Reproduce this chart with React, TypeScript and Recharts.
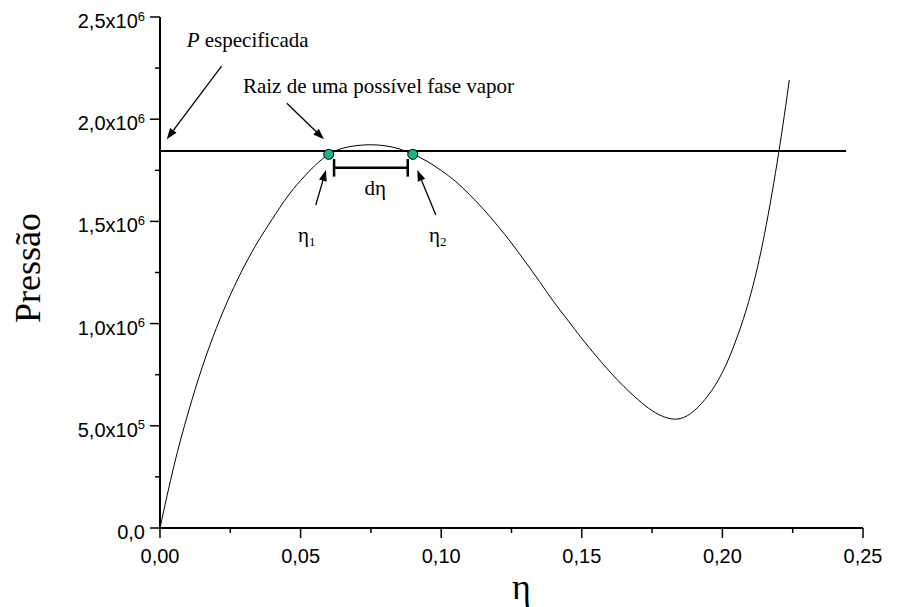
import React from 'react';
import { ComposedChart, Line, XAxis, YAxis, Scatter, ReferenceLine, ReferenceDot } from 'recharts';

// Curve: pressure vs packing fraction
const etaValues = [0, 0.005, 0.01, 0.015, 0.02, 0.025, 0.03, 0.035, 0.04, 0.045, 0.05, 0.055, 0.06, 0.065, 0.07, 0.075, 0.08, 0.085, 0.09, 0.095, 0.1, 0.105, 0.11, 0.115, 0.12, 0.125, 0.13, 0.135, 0.14, 0.145, 0.15, 0.155, 0.16, 0.165, 0.17, 0.175, 0.18, 0.185, 0.19, 0.195, 0.2, 0.205, 0.21, 0.215, 0.22, 0.2238];
const pressureValues = [0, 0.306e6, 0.563e6, 0.786e6, 0.976e6, 1.14e6, 1.282e6, 1.405e6, 1.513e6, 1.615e6, 1.7e6, 1.772e6, 1.828e6, 1.858e6, 1.871e6, 1.875e6, 1.87e6, 1.855e6, 1.828e6, 1.794e6, 1.749e6, 1.697e6, 1.632e6, 1.56e6, 1.48e6, 1.394e6, 1.301e6, 1.205e6, 1.107e6, 1.017e6, 0.927e6, 0.843e6, 0.764e6, 0.692e6, 0.628e6, 0.574e6, 0.54e6, 0.535e6, 0.574e6, 0.65e6, 0.761e6, 0.925e6, 1.14e6, 1.44e6, 1.834e6, 2.192e6];

// Specified pressure line
const specifiedPressure = 1.844e6;
const specifiedEtaRange = [0, 0.244];

// Roots (green points)
const rootEtas = [0.06, 0.0899];
const rootPressures = [1.828e6, 1.828e6];

// Ticks
const xTicks = [0, 0.025, 0.05, 0.075, 0.1, 0.125, 0.15, 0.175, 0.2, 0.225, 0.25];
const yTicks = [0, 0.25e6, 0.5e6, 0.75e6, 1e6, 1.25e6, 1.5e6, 1.75e6, 2e6, 2.25e6, 2.5e6];

// Annotation arrows
const arrowFromEta = [0.0219, 0.0451, 0.0554, 0.0981];
const arrowFromP = [2.26e6, 2.078e6, 1.58e6, 1.531e6];
const arrowToEta = [0.0024, 0.0583, 0.059, 0.0915];
const arrowToP = [1.902e6, 1.902e6, 1.751e6, 1.751e6];

// dη bracket
const bracketEtas = [0.0619, 0.0881];
const bracketP = 1.763e6;
const bracketEndP = [1.719e6, 1.805e6];

// Annotation labels
const labelAnchors = {
  pSpec: { eta: 0.0095, p: 2.355e6 },
  root: { eta: 0.0295, p: 2.13e6 },
  deta: { eta: 0.0765, p: 1.629e6 },
  eta1: { eta: 0.0491, p: 1.399e6 },
  eta2: { eta: 0.0957, p: 1.399e6 },
};

const curveData = etaValues.map((eta, i) => ({ eta, p: pressureValues[i] }));
const specData = specifiedEtaRange.map((eta) => ({ eta, p: specifiedPressure }));
const rootData = rootEtas.map((eta, i) => ({ eta, p: rootPressures[i] }));

const SERIF = "'Liberation Serif', 'Times New Roman', serif";
const SANS = "'Liberation Sans', Arial, sans-serif";

const XTick = (props: any) => {
  const { x, y, payload } = props;
  const v = payload.value as number;
  const major = Math.round(v / 0.025) % 2 === 0;
  return (
    <g>
      <line x1={x} y1={y} x2={x} y2={y + (major ? 10 : 5)} stroke="#000" strokeWidth={1.5} />
      {major && (
        <text x={x} y={y + 35} textAnchor="middle" fontFamily={SANS} fontSize={20} fill="#000">
          {v.toFixed(2).replace('.', ',')}
        </text>
      )}
    </g>
  );
};

const YTick = (props: any) => {
  const { x, y, payload } = props;
  const v = payload.value as number;
  const major = Math.round(v / 2.5e5) % 2 === 0;
  let content: React.ReactNode = null;
  if (major) {
    if (v === 0) {
      content = '0,0';
    } else {
      const e = Math.floor(Math.log10(v) + 1e-9);
      const m = (v / Math.pow(10, e)).toFixed(1).replace('.', ',');
      content = [
        <tspan key="m">{m + 'x10'}</tspan>,
        <tspan key="e" dy={-7.5} fontSize={13}>{String(e)}</tspan>,
      ];
    }
  }
  return (
    <g>
      <line x1={x} y1={y} x2={x - (major ? 10 : 5)} y2={y} stroke="#000" strokeWidth={1.5} />
      {major && (
        <text x={x - 15} y={y + 11} textAnchor="end" fontFamily={SANS} fontSize={20} fill="#000">
          {content}
        </text>
      )}
    </g>
  );
};

const Arrow = (props: any) => {
  const { x1, y1, x2, y2 } = props;
  const dx = x2 - x1;
  const dy = y2 - y1;
  const len = Math.sqrt(dx * dx + dy * dy) || 1;
  const ux = dx / len;
  const uy = dy / len;
  const hl = 11;
  const hw = 4;
  const bx = x2 - ux * hl;
  const by = y2 - uy * hl;
  const pts = `${x2},${y2} ${bx - uy * hw},${by + ux * hw} ${bx + uy * hw},${by - ux * hw}`;
  return (
    <g>
      <line x1={x1} y1={y1} x2={bx} y2={by} stroke="#000" strokeWidth={1.3} />
      <polygon points={pts} fill="#000" />
    </g>
  );
};

const ThickSeg = (props: any) => {
  const { x1, y1, x2, y2 } = props;
  return <line x1={x1} y1={y1} x2={x2} y2={y2} stroke="#000" strokeWidth={2.5} />;
};

const YLabel = (props: any) => {
  const vb = props.viewBox || {};
  const cx = (vb.x || 0) + 40;
  const cy = (vb.y || 0) + vb.height / 2 - 4.5;
  return (
    <text x={cx} y={cy} transform={`rotate(-90, ${cx}, ${cy})`} textAnchor="middle" fontFamily={SERIF} fontSize={36} fill="#000">
      Pressão
    </text>
  );
};

const XLabel = (props: any) => {
  const vb = props.viewBox || {};
  const cx = (vb.x || 0) + vb.width / 2 + 10;
  const cy = (vb.y || 0) + 71;
  return (
    <text x={cx} y={cy} textAnchor="middle" fontFamily={SERIF} fontSize={36} fill="#000">
      η
    </text>
  );
};

const textShape = (render: (cx: number, cy: number) => React.ReactElement) => (p: any) => render(p.cx, p.cy);

export default function App() {
  return (
    <div style={{ position: 'absolute', left: 0, top: 0, width: 902, height: 607 }}>
      <ComposedChart width={902} height={607} margin={{ top: 17, right: 39, bottom: 0, left: 0 }}>
        <XAxis
          type="number"
          dataKey="eta"
          domain={[0, 0.25]}
          ticks={xTicks}
          interval={0}
          tickLine={false}
          tickSize={0}
          tickMargin={0}
          tick={(p: any) => <XTick {...p} />}
          axisLine={{ stroke: '#000', strokeWidth: 2 }}
          height={79}
          label={<XLabel />}
          allowDataOverflow
        />
        <YAxis
          type="number"
          dataKey="p"
          domain={[0, 2.5e6]}
          ticks={yTicks}
          interval={0}
          tickLine={false}
          tickSize={0}
          tickMargin={0}
          tick={(p: any) => <YTick {...p} />}
          axisLine={{ stroke: '#000', strokeWidth: 2 }}
          width={160}
          label={<YLabel />}
          allowDataOverflow
        />
        <Line data={curveData} dataKey="p" type="natural" stroke="#000" strokeWidth={1} dot={false} isAnimationActive={false} />
        <Line data={specData} dataKey="p" type="linear" stroke="#000" strokeWidth={2} dot={false} isAnimationActive={false} />
        {arrowFromEta.map((e, i) => (
          <ReferenceLine
            key={'a' + i}
            segment={[{ x: e, y: arrowFromP[i] }, { x: arrowToEta[i], y: arrowToP[i] }]}
            shape={(p: any) => <Arrow {...p} />}
          />
        ))}
        <ReferenceLine segment={[{ x: bracketEtas[0], y: bracketP }, { x: bracketEtas[1], y: bracketP }]} stroke="#000" strokeWidth={2.5} />
        {bracketEtas.map((e, i) => (
          <ReferenceLine
            key={'b' + i}
            segment={[{ x: e, y: bracketEndP[0] }, { x: e, y: bracketEndP[1] }]}
            shape={(p: any) => <ThickSeg {...p} />}
          />
        ))}
        <Scatter data={rootData} dataKey="p" fill="#1cb38b" stroke="#000" strokeWidth={1} isAnimationActive={false}
          shape={(p: any) => <circle cx={p.cx} cy={p.cy} r={5} fill="#1cb38b" stroke="#000" strokeWidth={1} />} />
        <ReferenceDot
          x={labelAnchors.pSpec.eta}
          y={labelAnchors.pSpec.p}
          r={0}
          shape={textShape((cx, cy) => (
            <text x={cx} y={cy} fontFamily={SERIF} fontSize={21} fill="#000">
              <tspan fontStyle="italic">P</tspan>
              <tspan> especificada</tspan>
            </text>
          ))}
        />
        <ReferenceDot
          x={labelAnchors.root.eta}
          y={labelAnchors.root.p}
          r={0}
          shape={textShape((cx, cy) => (
            <text x={cx} y={cy} fontFamily={SERIF} fontSize={21} fill="#000">
              Raiz de uma possível fase vapor
            </text>
          ))}
        />
        <ReferenceDot
          x={labelAnchors.deta.eta}
          y={labelAnchors.deta.p}
          r={0}
          shape={textShape((cx, cy) => (
            <text x={cx} y={cy} textAnchor="middle" fontFamily={SERIF} fontSize={21} fill="#000">
              dη
            </text>
          ))}
        />
        <ReferenceDot
          x={labelAnchors.eta1.eta}
          y={labelAnchors.eta1.p}
          r={0}
          shape={textShape((cx, cy) => (
            <text x={cx} y={cy} fontFamily={SERIF} fontSize={21} fill="#000">
              <tspan>η</tspan>
              <tspan dy={4} fontSize={13}>1</tspan>
            </text>
          ))}
        />
        <ReferenceDot
          x={labelAnchors.eta2.eta}
          y={labelAnchors.eta2.p}
          r={0}
          shape={textShape((cx, cy) => (
            <text x={cx} y={cy} fontFamily={SERIF} fontSize={21} fill="#000">
              <tspan>η</tspan>
              <tspan dy={4} fontSize={13}>2</tspan>
            </text>
          ))}
        />
      </ComposedChart>
    </div>
  );
}
